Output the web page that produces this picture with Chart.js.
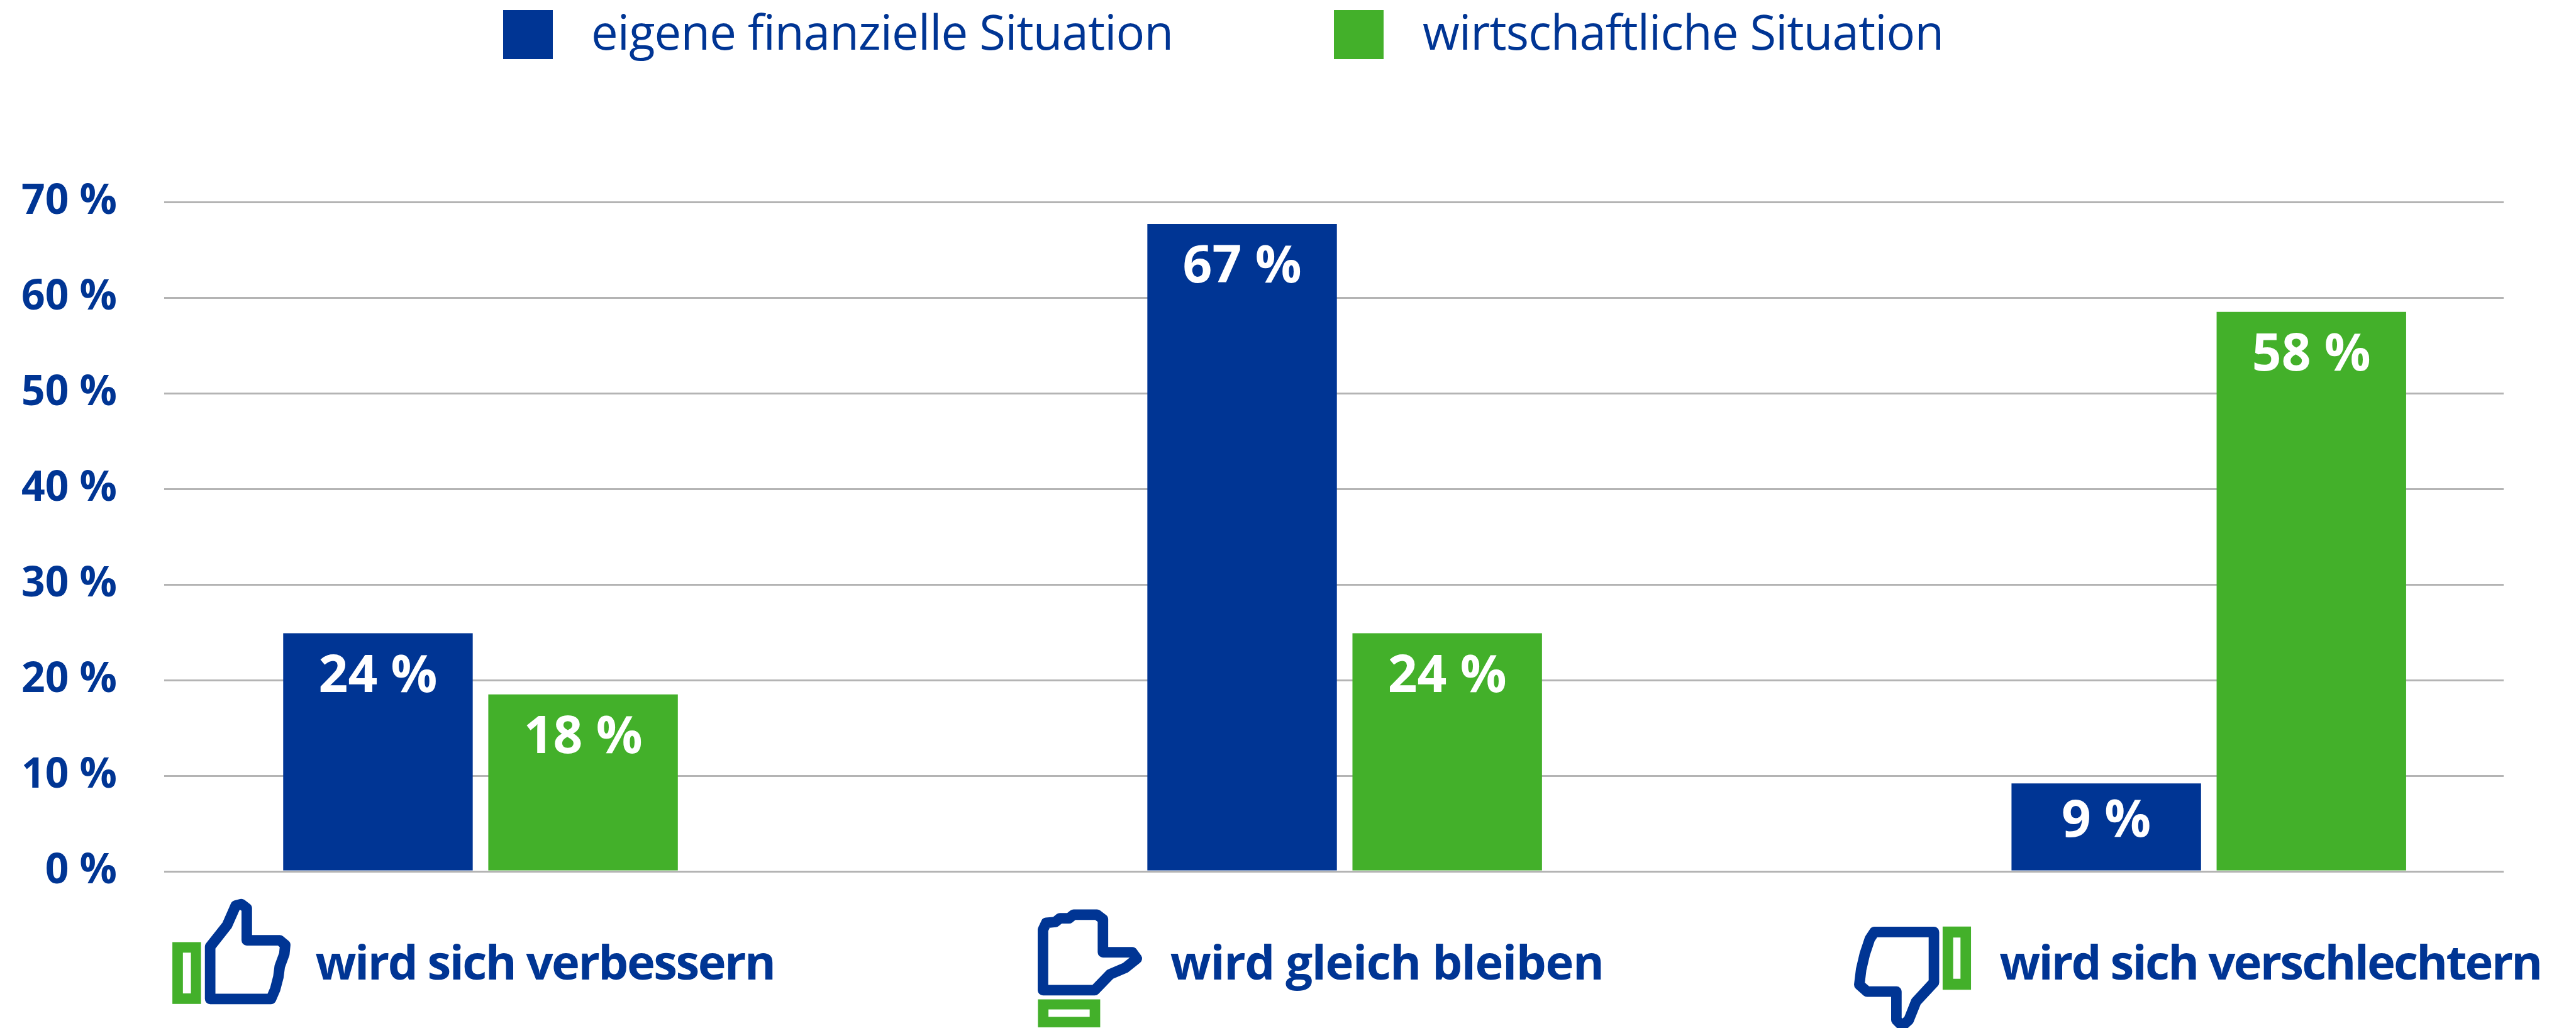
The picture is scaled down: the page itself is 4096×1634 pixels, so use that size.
<!DOCTYPE html>
<html><head><meta charset="utf-8">
<style>html,body{margin:0;padding:0;background:#fff}#w{width:4096px;height:1634px}canvas{display:block}</style>
<script src="https://cdn.jsdelivr.net/npm/chart.js@4"></script>
</head><body><div id="w"><canvas id="c" width="4096" height="1634"></canvas></div>
<script>
const categories = ['wird sich verbessern', 'wird gleich bleiben', 'wird sich verschlechtern'];
const seriesNames = ['eigene finanzielle Situation', 'wirtschaftliche Situation'];
const ownSituation = [24.9, 67.7, 9.2];
const economicSituation = [18.5, 24.9, 58.5];
const ownLabels = ['24 %', '67 %', '9 %'];
const economicLabels = ['18 %', '24 %', '58 %'];
const yTicks = [0, 10, 20, 30, 40, 50, 60, 70];
const BLUE = '#003594', GREEN = '#43B02A', FONT = '"Open Sans"';
const S = 0.728;
const groupAt = [0, 1, 2];

// icon outlines, in reference pixels
const icons = [
  { line: [[459,2181],[459,2067],[496,2020],[515,1977],[527,1974],[539,1983],[539,2053],[611,2053],[623,2063],[621,2083],[611,2110],[608,2133],[601,2160],[592,2181]],
    box: [376.5,2057,62.5,135], hole: [399.5,2080,17.5,89] },
  { line: [[2278,2162],[2278,2030],[2285,2015],[2305,2013],[2315,2005],[2335,2005],[2345,1997],[2396,1997],[2409,2007],[2409,2079],[2473,2079],[2483,2093],[2458,2113],[2425,2127],[2391,2162]],
    box: [2267,2182,136,61], hole: [2290,2204,90,16] },
  { line: [[4224,2035],[4224,2145],[4185,2187],[4169,2227],[4155,2240],[4142,2227],[4142,2165],[4078,2165],[4061,2150],[4065,2117],[4073,2083],[4084,2050],[4094,2035]],
    box: [4243,2023,62,138], hole: [4266,2047,16,90] }
];
const catTextX = [689, 2556, 4367];
const catTextEnd = [1695, 3504, 5554];

function fitText(ctx, text, x, y, width) {
  ctx.letterSpacing = '0px';
  const extra = (width - ctx.measureText(text).width) / (text.length - 1);
  ctx.letterSpacing = extra.toFixed(3) + 'px';
  ctx.fillText(text, x, y);
  ctx.letterSpacing = '0px';
}

const decor = {
  id: 'decor',
  afterDatasetsDraw(chart) {
    const ctx = chart.ctx;
    ctx.save();
    // bar value labels
    ctx.fillStyle = '#fff';
    ctx.textAlign = 'center';
    ctx.textBaseline = 'alphabetic';
    ctx.font = `700 82px ${FONT}`;
    [ownLabels, economicLabels].forEach((labels, d) => {
      chart.getDatasetMeta(d).data.forEach((bar, i) => {
        const drop = labels[i] === '9 %' ? 85 : 93;
        ctx.fillText(labels[i], bar.x, bar.y + drop);
      });
    });
    // legend
    ctx.textAlign = 'left';
    ctx.font = `400 76px ${FONT}`;
    const legend = [[800, 940, 1866], [2121, 2262, 3091]];
    seriesNames.forEach((name, i) => {
      ctx.fillStyle = chart.data.datasets[i].backgroundColor;
      ctx.fillRect(legend[i][0], 16, 79, 78);
      ctx.fillStyle = BLUE;
      fitText(ctx, name, legend[i][1], 79, legend[i][2] - legend[i][1]);
    });
    // category labels
    ctx.font = `700 76px ${FONT}`;
    categories.forEach((name, i) => {
      ctx.fillStyle = BLUE;
      fitText(ctx, name, catTextX[i] * S, 2139 * S, (catTextEnd[i] - catTextX[i]) * S);
    });
    // icons
    icons.forEach(ic => {
      ctx.beginPath();
      ic.line.forEach(([x, y], i) => i ? ctx.lineTo(x * S, y * S) : ctx.moveTo(x * S, y * S));
      ctx.closePath();
      ctx.strokeStyle = BLUE;
      ctx.lineWidth = 23 * S;
      ctx.lineJoin = 'round';
      ctx.stroke();
      ctx.fillStyle = GREEN;
      ctx.fillRect(ic.box[0] * S, ic.box[1] * S, ic.box[2] * S, ic.box[3] * S);
      ctx.fillStyle = '#fff';
      ctx.fillRect(ic.hole[0] * S, ic.hole[1] * S, ic.hole[2] * S, ic.hole[3] * S);
    });
    ctx.restore();
  }
};

new Chart(document.getElementById('c'), {
  type: 'bar',
  data: {
    datasets: [
      { label: seriesNames[0], backgroundColor: BLUE, data: groupAt.map((x, i) => ({ x, y: ownSituation[i] })) },
      { label: seriesNames[1], backgroundColor: GREEN, data: groupAt.map((x, i) => ({ x, y: economicSituation[i] })) }
    ]
  },
  plugins: [decor],
  options: {
    responsive: false,
    animation: false,
    events: [],
    layout: { padding: { top: 321, right: 115, bottom: 249, left: 0 } },
    categoryPercentage: 896 / 1887.5,
    barPercentage: 414 / 448,
    plugins: { legend: { display: false }, tooltip: { enabled: false } },
    scales: {
      x: {
        type: 'linear',
        offset: false,
        min: (359 - 1050) / 1887.5,
        max: (5469 - 1050) / 1887.5,
        afterBuildTicks(s) { s.ticks = groupAt.map(value => ({ value })); },
        afterFit(s) { s.height = 0; },
        grid: { display: false },
        border: { display: false },
        ticks: { display: false }
      },
      y: {
        min: 0, max: 70,
        afterFit(s) { s.width = 261; },
        afterBuildTicks(s) { s.ticks = yTicks.map(value => ({ value })); },
        grid: { color: '#b4b4b4', lineWidth: 3, drawTicks: false },
        border: { display: false },
        ticks: {
          color: BLUE, padding: 75, font: { family: FONT, weight: '700', size: 66 },
          callback: v => v + ' %'
        }
      }
    }
  }
});
</script></body></html>
